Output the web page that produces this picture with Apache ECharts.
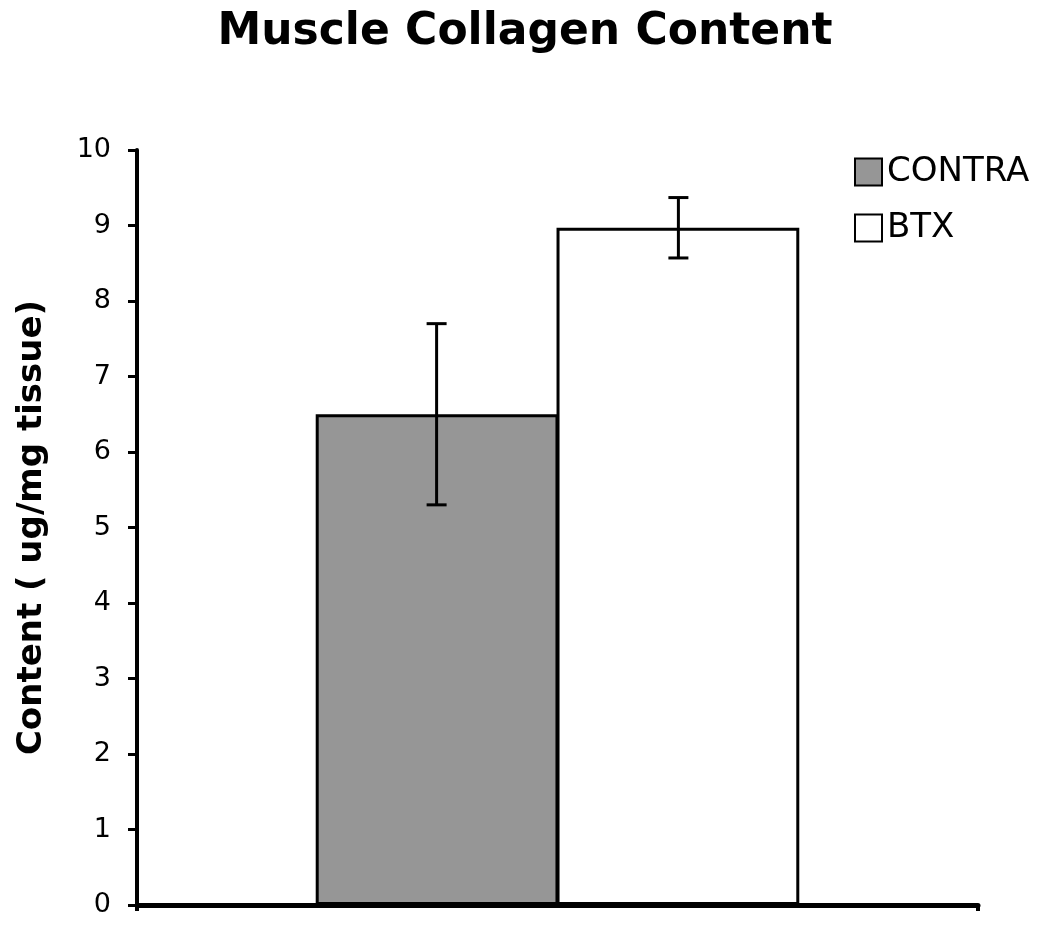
<!DOCTYPE html>
<html>
<head>
<meta charset="utf-8">
<script src="https://cdn.jsdelivr.net/npm/echarts@6/dist/echarts.min.js"></script>
<style>
  html, body { margin: 0; padding: 0; background: #fff; }
  #chart { width: 1050px; height: 932px; }
</style>
</head>
<body>
<div id="chart"></div>
<script>
var categories = ['Muscle'];
var groups = ['CONTRA', 'BTX'];
var means = [6.5, 8.97];
var errors = [1.2, 0.4];
var yTicks = [0, 1, 2, 3, 4, 5, 6, 7, 8, 9, 10];

var gap = 0.425;

// error bar ranges, built from means and errors
var errData = means.map(function (m, i) {
    return [0, m - errors[i], m + errors[i]];
});

var chart = echarts.init(document.getElementById('chart'));
chart.setOption({
    animation: false,
    textStyle: { fontFamily: 'DejaVu Sans', color: '#000' },
    title: {
        text: 'Muscle Collagen Content',
        left: 'center',
        top: 6,
        textStyle: { fontSize: 44, fontWeight: 'bold', color: '#000', fontFamily: 'DejaVu Sans' }
    },
    legend: {
        data: groups,
        orient: 'vertical',
        left: 849,
        top: 150,
        itemWidth: 27,
        itemHeight: 27,
        itemGap: 22,
        icon: 'rect',
        textStyle: { fontSize: 34, color: '#000', fontFamily: 'DejaVu Sans' }
    },
    grid: { left: 137, right: 72, top: 150, bottom: 27 },
    xAxis: {
        type: 'category',
        data: categories,
        axisLine: { lineStyle: { color: '#000', width: 5 } },
        axisTick: { show: true, length: 6, lineStyle: { color: '#000', width: 4 } },
        axisLabel: { show: false }
    },
    yAxis: {
        type: 'value',
        min: yTicks[0],
        max: yTicks[yTicks.length - 1],
        interval: 1,
        name: 'Content ( ug/mg tissue)',
        nameLocation: 'middle',
        nameGap: 88,
        nameTextStyle: { fontSize: 34, fontWeight: 'bold', color: '#000', fontFamily: 'DejaVu Sans' },
        axisLine: { show: true, lineStyle: { color: '#000', width: 4 } },
        axisTick: { show: true, length: 9, lineStyle: { color: '#000', width: 3 } },
        axisLabel: { fontSize: 27, color: '#000', margin: 26, fontFamily: 'DejaVu Sans' },
        splitLine: { show: false }
    },
    series: [
        {
            name: groups[0],
            type: 'bar',
            data: [means[0]],
            barGap: '-0.8%',
            barCategoryGap: (gap * 100) + '%',
            itemStyle: { color: '#969696', borderColor: '#000', borderWidth: 3 }
        },
        {
            name: groups[1],
            type: 'bar',
            data: [means[1]],
            itemStyle: { color: '#fff', borderColor: '#000', borderWidth: 3 }
        },
        {
            type: 'custom',
            z: 10,
            data: errData,
            encode: { x: 0, y: [1, 2] },
            renderItem: function (params, api) {
                var band = api.size([1, 0])[0];
                var barW = band * (1 - gap) / 2;
                var off = (params.dataIndex === 0 ? -1 : 1) * barW / 2;
                var lo = api.coord([api.value(0), api.value(1)]);
                var hi = api.coord([api.value(0), api.value(2)]);
                var x = lo[0] + off;
                var cap = 10;
                var st = { stroke: '#000', lineWidth: 3 };
                return {
                    type: 'group',
                    children: [
                        { type: 'line', shape: { x1: x, y1: lo[1], x2: x, y2: hi[1] }, style: st },
                        { type: 'line', shape: { x1: x - cap, y1: lo[1], x2: x + cap, y2: lo[1] }, style: st },
                        { type: 'line', shape: { x1: x - cap, y1: hi[1], x2: x + cap, y2: hi[1] }, style: st }
                    ]
                };
            }
        }
    ]
});
</script>
</body>
</html>
